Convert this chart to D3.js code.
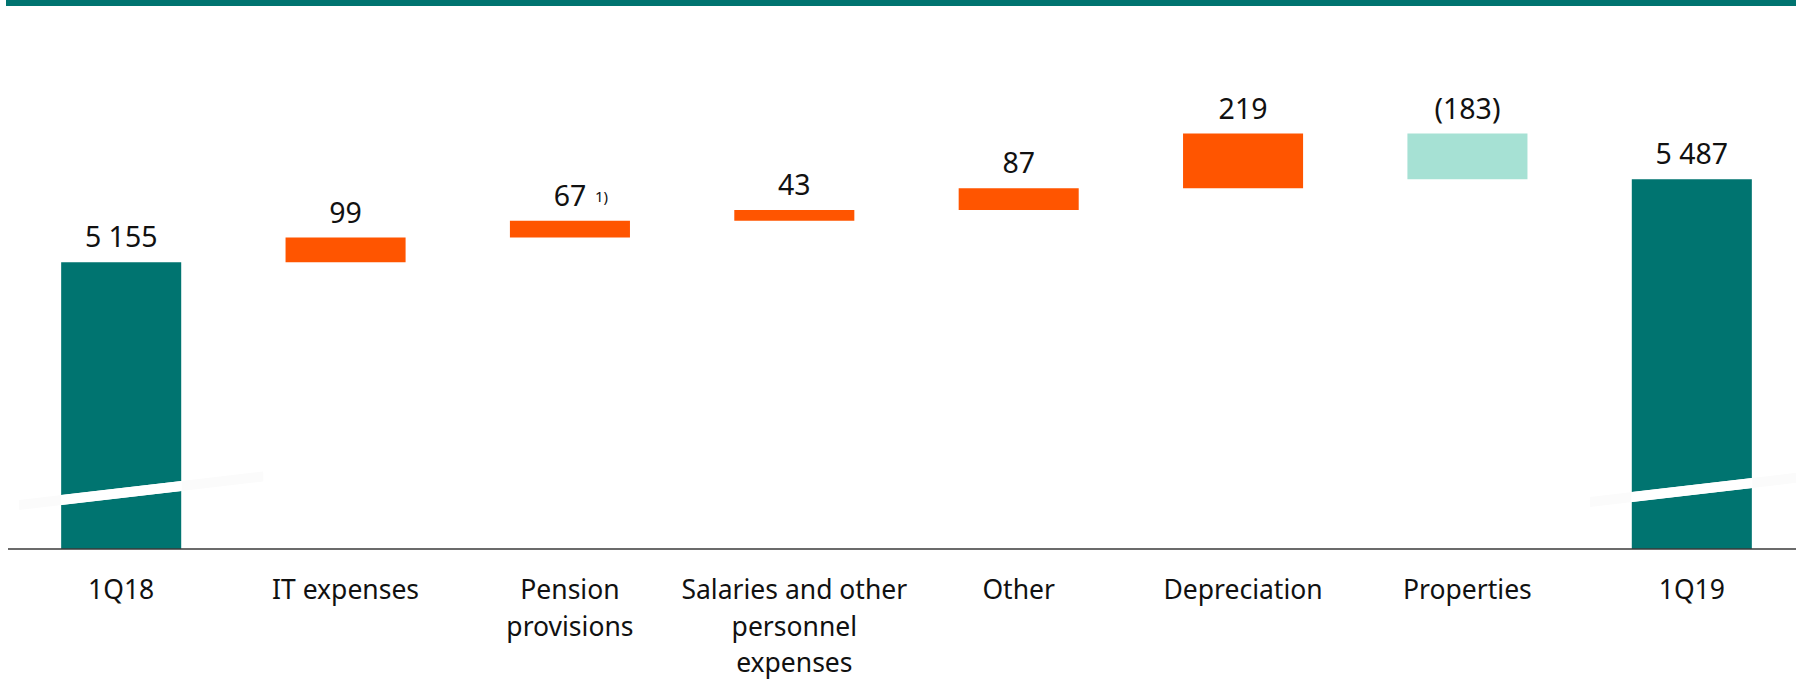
<!DOCTYPE html>
<html>
<head>
<meta charset="utf-8">
<script src="https://cdn.jsdelivr.net/npm/d3@7"></script>
<style>
  html, body { margin: 0; padding: 0; background: #ffffff; }
  svg { display: block; }
  text { font-family: "Noto Sans", "Open Sans", sans-serif; fill: #111111; }
</style>
</head>
<body>
<svg id="chart" width="1796" height="682"></svg>
<script>
// Operating expenses bridge, 1Q18 -> 1Q19 (SEK m)
const categories = ["1Q18", "IT expenses", "Pension provisions", "Salaries and other personnel expenses",
                    "Other", "Depreciation", "Properties", "1Q19"];
const categoryLines = [["1Q18"], ["IT expenses"], ["Pension", "provisions"],
                       ["Salaries and other", "personnel", "expenses"],
                       ["Other"], ["Depreciation"], ["Properties"], ["1Q19"]];
const kinds = ["total", "increase", "increase", "increase", "increase", "increase", "decrease", "total"];
const values = [5155, 99, 67, 43, 87, 219, -183, 5487];
const valueLabels = ["5 155", "99", "67", "43", "87", "219", "(183)", "5 487"];
const footnotes = ["", "", "1)", "", "", "", "", ""];
// Value at which the (broken) vertical axis starts
const axisFloor = 4008;

const colors = { total: "#007470", increase: "#FF5500", decrease: "#A6E1D4" };

const W = 1796, H = 682;
const svg = d3.select("#chart");

// Running totals for the waterfall steps
let running = 0;
const bars = categories.map((c, i) => {
  let start, end;
  if (kinds[i] === "total") { start = axisFloor; end = values[i]; running = values[i]; }
  else { start = running; end = running + values[i]; running = end; }
  return { cat: c, kind: kinds[i], start, end, label: valueLabels[i], note: footnotes[i], lines: categoryLines[i] };
});

const x = d3.scaleBand().domain(categories).range([9, 1804]).paddingInner(0.465).paddingOuter(0.2325);
const y = d3.scaleLinear().domain([axisFloor, 5700]).range([549, 126]);

// Header rule
svg.append("rect").attr("x", 6).attr("y", 0).attr("width", W - 6).attr("height", 6).attr("fill", "#007470");

// Bars
svg.append("g").selectAll("rect").data(bars).join("rect")
  .attr("x", d => x(d.cat))
  .attr("width", x.bandwidth())
  .attr("y", d => y(Math.max(d.start, d.end)))
  .attr("height", d => Math.abs(y(d.start) - y(d.end)))
  .attr("fill", d => colors[d.kind]);

// Axis-break bands across the two total bars
const slope = -14 / 120, thick = 10;
const breakLift = { "1Q18": 56, "1Q19": 59 };
const brk = svg.append("g");
bars.filter(d => d.kind === "total").forEach(d => {
  const x0 = x(d.cat), x1 = x0 + x.bandwidth(), xc = x0 + x.bandwidth() / 2;
  const yc = y(axisFloor) - breakLift[d.cat];
  const band = (a, b) => {
    const ya = yc + (a - xc) * slope, yb = yc + (b - xc) * slope;
    return [[a, ya - thick / 2], [b, yb - thick / 2], [b, yb + thick / 2], [a, ya + thick / 2]];
  };
  brk.append("polygon").attr("points", band(x0 - 42, x1 + 82).join(" ")).attr("fill", "#fbfbfb");
  brk.append("polygon").attr("points", band(x0 - 0.5, x1 + 0.5).join(" ")).attr("fill", "#ffffff");
});

// Category axis
const axis = svg.append("g")
  .attr("transform", `translate(0,${y(axisFloor)})`)
  .call(d3.axisBottom(x).tickSize(0).tickFormat(""));
axis.select(".domain").attr("d", `M8,0H${W}`).attr("stroke", "#3a3a3a").attr("stroke-width", 1.6);
axis.selectAll(".tick").each(function (c, i) {
  const t = d3.select(this).append("text")
    .attr("text-anchor", "middle")
    .attr("font-size", 26.5)
    .attr("y", 50);
  categoryLines[i].forEach((ln, k) => {
    t.append("tspan").attr("x", 0).attr("dy", k === 0 ? 0 : 36.5).text(ln);
  });
});

// Value labels
const vl = svg.append("g");
bars.forEach(d => {
  const cx = x(d.cat) + x.bandwidth() / 2;
  const top = y(Math.max(d.start, d.end));
  vl.append("text").attr("x", cx).attr("y", top - 15)
    .attr("text-anchor", "middle").attr("font-size", 28.5).text(d.label);
  if (d.note) {
    vl.append("text").attr("x", cx + 25).attr("y", top - 19)
      .attr("font-size", 15).text(d.note);
  }
});
</script>
</body>
</html>
